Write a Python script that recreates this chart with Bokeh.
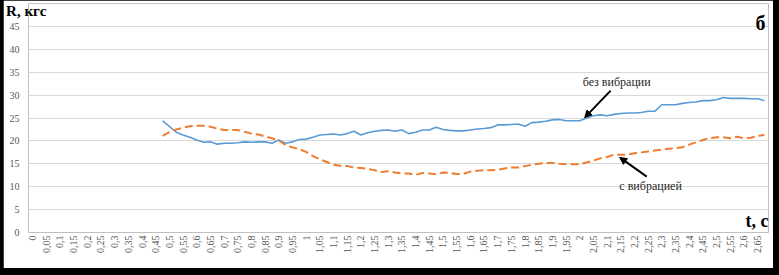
import math
from bokeh.plotting import figure
from bokeh.models import Range1d, FixedTicker, Label, Arrow, NormalHead, LinearAxis
from bokeh.layouts import column
from bokeh.embed import file_html
from bokeh.resources import INLINE

# ---- data ----
t_start = 0.475
t_step = 0.025
blue_values = [24.4, 23.2, 21.9, 21.3, 20.8, 20.2, 19.7, 19.8, 19.3, 19.5,
               19.5, 19.6, 19.8, 19.7, 19.8, 19.8, 19.5, 20.2, 19.5, 19.8,
               20.3, 20.4, 20.8, 21.3, 21.4, 21.5, 21.3, 21.6, 22.1, 21.3,
               21.8, 22.1, 22.3, 22.4, 22.1, 22.4, 21.6, 21.9, 22.4, 22.4,
               23.0, 22.5, 22.3, 22.2, 22.2, 22.4, 22.6, 22.7, 22.9, 23.5,
               23.5, 23.6, 23.7, 23.2, 24.0, 24.1, 24.3, 24.6, 24.7, 24.4,
               24.4, 24.4, 25.0, 25.5, 25.7, 25.5, 25.8, 26.0, 26.1, 26.1,
               26.2, 26.5, 26.5, 27.9, 27.9, 27.9, 28.2, 28.4, 28.5, 28.8,
               28.8, 29.0, 29.5, 29.3, 29.3, 29.3, 29.2, 29.2, 28.8]
orange_values = [21.1, 21.9, 22.5, 22.9, 23.2, 23.3, 23.3, 23.1, 22.7, 22.4,
                 22.4, 22.4, 22.0, 21.6, 21.4, 21.0, 20.6, 20.1, 19.1, 18.6,
                 18.2, 17.6, 16.7, 16.0, 15.4, 14.8, 14.6, 14.5, 14.2, 14.1,
                 13.9, 13.6, 13.2, 13.4, 13.1, 12.9, 12.9, 12.6, 13.0, 12.9,
                 12.7, 13.1, 13.0, 12.8, 12.8, 13.3, 13.5, 13.6, 13.6, 13.7,
                 14.0, 14.2, 14.2, 14.5, 14.8, 15.0, 15.2, 15.2, 15.0, 14.9,
                 14.9, 14.9, 15.3, 15.7, 16.2, 16.5, 17.0, 17.0, 17.0, 17.3,
                 17.5, 17.7, 17.9, 18.1, 18.3, 18.4, 18.6, 19.2, 19.7, 20.2,
                 20.6, 20.8, 20.8, 20.6, 20.9, 20.6, 20.7, 21.1, 21.3]
times = [round(t_start + t_step * i, 3) for i in range(len(blue_values))]

x_tick_labels = ["0", "0,05", "0,1", "0,15", "0,2", "0,25", "0,3", "0,35", "0,4", "0,45",
                 "0,5", "0,55", "0,6", "0,65", "0,7", "0,75", "0,8", "0,85", "0,9", "0,95",
                 "1", "1,05", "1,1", "1,15", "1,2", "1,25", "1,3", "1,35", "1,4", "1,45",
                 "1,5", "1,55", "1,6", "1,65", "1,7", "1,75", "1,8", "1,85", "1,9", "1,95",
                 "2", "2,05", "2,1", "2,15", "2,2", "2,25", "2,3", "2,35", "2,4", "2,45",
                 "2,5", "2,55", "2,6", "2,65"]
y_ticks = [0, 5, 10, 15, 20, 25, 30, 35, 40, 45]
y_title = "R, кгс"
x_title = "t, с"
panel_letter = "б"
series_names = ["без вибрации", "с вибрацией"]

FONT = "'Liberation Serif', 'Times New Roman', serif"
GRAY = "#595959"

x_ticks = [float(s.replace(",", ".")) for s in x_tick_labels]

# frame spans page y 3..232; the 45 gridline sits at page y 26
y_top = 50.02
y_title_pos = 48.49
x_title_pos = 2.42


def bare(ax):
    ax.axis_line_color = None
    ax.major_tick_line_color = None
    ax.minor_tick_line_color = None
    ax.major_tick_out = 0
    ax.major_tick_in = 0


p = figure(width=770, height=268, output_backend="svg", toolbar_location=None,
           x_range=Range1d(-0.015, 2.69), y_range=Range1d(0, y_top),
           min_border_left=24, min_border_right=5, min_border_top=3, min_border_bottom=36,
           background_fill_color="white", border_fill_color="white")
p.outline_line_color = None

p.xgrid.grid_line_color = None
p.ygrid.grid_line_color = "#D9D9D9"
p.ygrid.grid_line_width = 1

main_x = p.xaxis[0]
main_y = p.yaxis[0]
main_x.ticker = FixedTicker(ticks=x_ticks)
main_x.major_label_overrides = {x: s for x, s in zip(x_ticks, x_tick_labels)}
main_x.major_label_orientation = math.pi / 2
main_y.ticker = FixedTicker(ticks=y_ticks)
for ax in (main_x, main_y):
    bare(ax)
    ax.major_label_text_font = FONT
    ax.major_label_text_font_size = "10px"
    ax.major_label_text_color = GRAY
main_y.major_label_standoff = 9
main_x.major_label_standoff = 3

# quantity name of the y axis, drawn as the label of an extra left axis
name_axis = LinearAxis(ticker=FixedTicker(ticks=[y_title_pos]),
                       major_label_overrides={y_title_pos: y_title})
bare(name_axis)
name_axis.major_label_standoff = -40
name_axis.major_label_text_font = FONT
name_axis.major_label_text_font_style = "bold"
name_axis.major_label_text_font_size = "15px"
name_axis.major_label_text_color = "black"
p.add_layout(name_axis, "left")

# quantity name of the x axis, drawn as the label of an extra right axis
t_axis = LinearAxis(ticker=FixedTicker(ticks=[x_title_pos]),
                    major_label_overrides={x_title_pos: x_title})
bare(t_axis)
t_axis.major_label_standoff = -23
t_axis.major_label_text_font = FONT
t_axis.major_label_text_font_style = "bold"
t_axis.major_label_text_font_size = "18px"
t_axis.major_label_text_color = "black"
p.add_layout(t_axis, "right")

p.line(times, blue_values, line_color="#5B9BD5", line_width=1.6)
p.line(times, orange_values, line_color="#ED7D31", line_width=2, line_dash="8 4")

# annotations
p.add_layout(Label(x=2.135, y=32.9, text=series_names[0], text_font=FONT,
                   text_font_size="12px", text_color="#262626", text_align="center",
                   text_baseline="alphabetic"))
p.add_layout(Label(x=2.259, y=10.1, text=series_names[1], text_font=FONT,
                   text_font_size="12px", text_color="#262626", text_align="center",
                   text_baseline="alphabetic"))
p.add_layout(Arrow(x_start=2.113, y_start=31.0, x_end=2.018, y_end=25.1,
                   line_color="black", line_width=2,
                   end=NormalHead(size=7, fill_color="black", line_color="black")))
p.add_layout(Arrow(x_start=2.245, y_start=12.2, x_end=2.146, y_end=16.4,
                   line_color="black", line_width=2,
                   end=NormalHead(size=7, fill_color="black", line_color="black")))

# panel letter (inside the frame, top-right)
p.add_layout(Label(x=737, y=210, x_units="screen", y_units="screen", text=panel_letter,
                   text_font=FONT, text_font_style="bold", text_font_size="20px",
                   text_color="black", text_align="right", text_baseline="alphabetic"))

layout = column(p, styles={"background-color": "black", "padding": "0px 6px 7px 3px"})

open("out.html", "w").write(file_html(layout, INLINE))
